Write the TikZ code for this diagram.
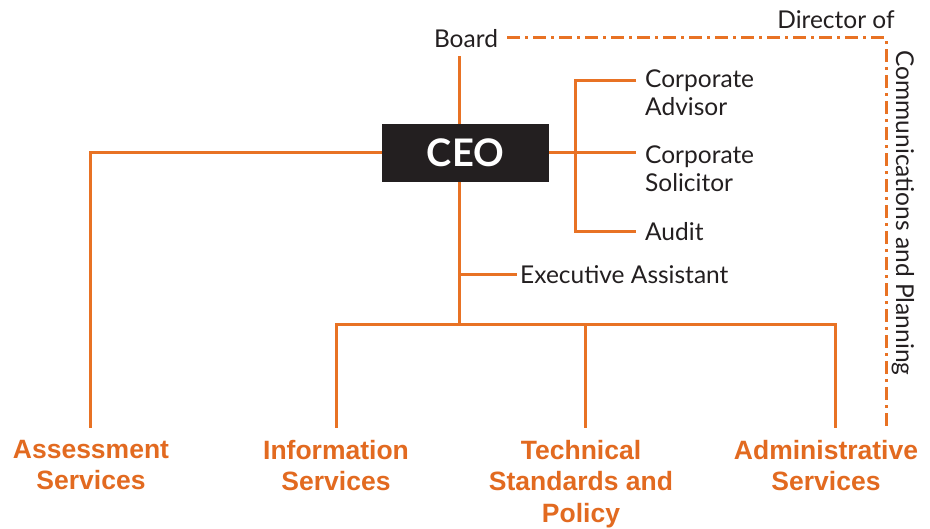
\documentclass[tikz,border=0pt]{standalone}
\usepackage{fontspec}
\setmainfont{Lato}
\newfontfamily\labfont{Liberation Sans}
\definecolor{org}{RGB}{232,114,36}
\definecolor{orgtxt}{RGB}{226,106,32}
\definecolor{ink}{RGB}{35,31,32}
\begin{document}
\begin{tikzpicture}[x=1pt,y=-1pt,
  conn/.style={draw=org, line width=3pt},
  dashconn/.style={draw=org, line width=3pt, dash pattern=on 13pt off 5pt on 3pt off 5pt},
  role/.style={inner sep=0pt, text=ink, font=\fontsize{24.5}{28}\selectfont, align=left},
  unit/.style={inner sep=0pt, text=orgtxt, font=\labfont\bfseries\fontsize{26.5}{31.5}\selectfont, align=center, anchor=north},
  ceobox/.style={fill=ink, text=white, font=\bfseries\fontsize{38}{40}\selectfont, minimum width=167pt, minimum height=58pt, inner sep=0pt}]
\useasboundingbox (0,0) rectangle (930,529);

% nodes
\node[role] (board) at (466,39) {Board};
\node[role] (dir) at (836,20) {Director of};
\node[role, rotate=-90] (comm) at (903,213) {Communications and Planning};
\node[ceobox] (ceo) at (465.5,153) {CEO};
\node[role, anchor=west] (adv) at (645,93) {Corporate\\Advisor};
\node[role, anchor=west] (sol) at (645,169) {Corporate\\Solicitor};
\node[role, anchor=west] (audit) at (645,232) {Audit};
\node[role, anchor=west] (exec) at (520,275) {Executive Assistant};
\node[unit] (assess) at (91,440) {Assessment\\Services};
\node[unit] (info) at (336,440) {Information\\Services};
\node[unit] (tech) at (581,440) {Technical\\Standards and\\Policy};
\node[unit] (admin) at (826,440) {Administrative\\Services};

% helper coordinates
\coordinate (spine) at (459,153);
\coordinate (rb) at (575,153);
\coordinate (advpt) at (636,81);
\coordinate (bus) at (459,325);
\coordinate (dA) at ([xshift=-1pt,yshift=12pt]assess.north);
\coordinate (dI) at ([yshift=12pt]info.north);
\coordinate (dT) at ([xshift=4pt,yshift=12pt]tech.north);
\coordinate (dAd) at ([xshift=9pt,yshift=12pt]admin.north);
\coordinate (dCom) at (886,428);

% connectors
\draw[dashconn] ([xshift=9pt,yshift=1pt]board.east) -| (dCom);
\draw[conn] ([yshift=-8pt]board.south -| spine) -- (ceo.north -| spine);
\draw[conn] (ceo.west) -| (dA);
\draw[conn] (ceo.east) -- ([xshift=-9pt]ceo.east -| sol.west);
\draw[conn] (advpt) -| (rb |- audit.west) -- ([xshift=-9pt]audit.west);
\draw[conn] (spine |- exec.west) -- ([xshift=-3pt]exec.west);
\draw[conn] (ceo.south -| spine) -- (bus);
\draw[conn] (dI) |- (bus -| dAd) -- (dAd);
\draw[conn] (dT |- bus) -- (dT);
\end{tikzpicture}
\end{document}
